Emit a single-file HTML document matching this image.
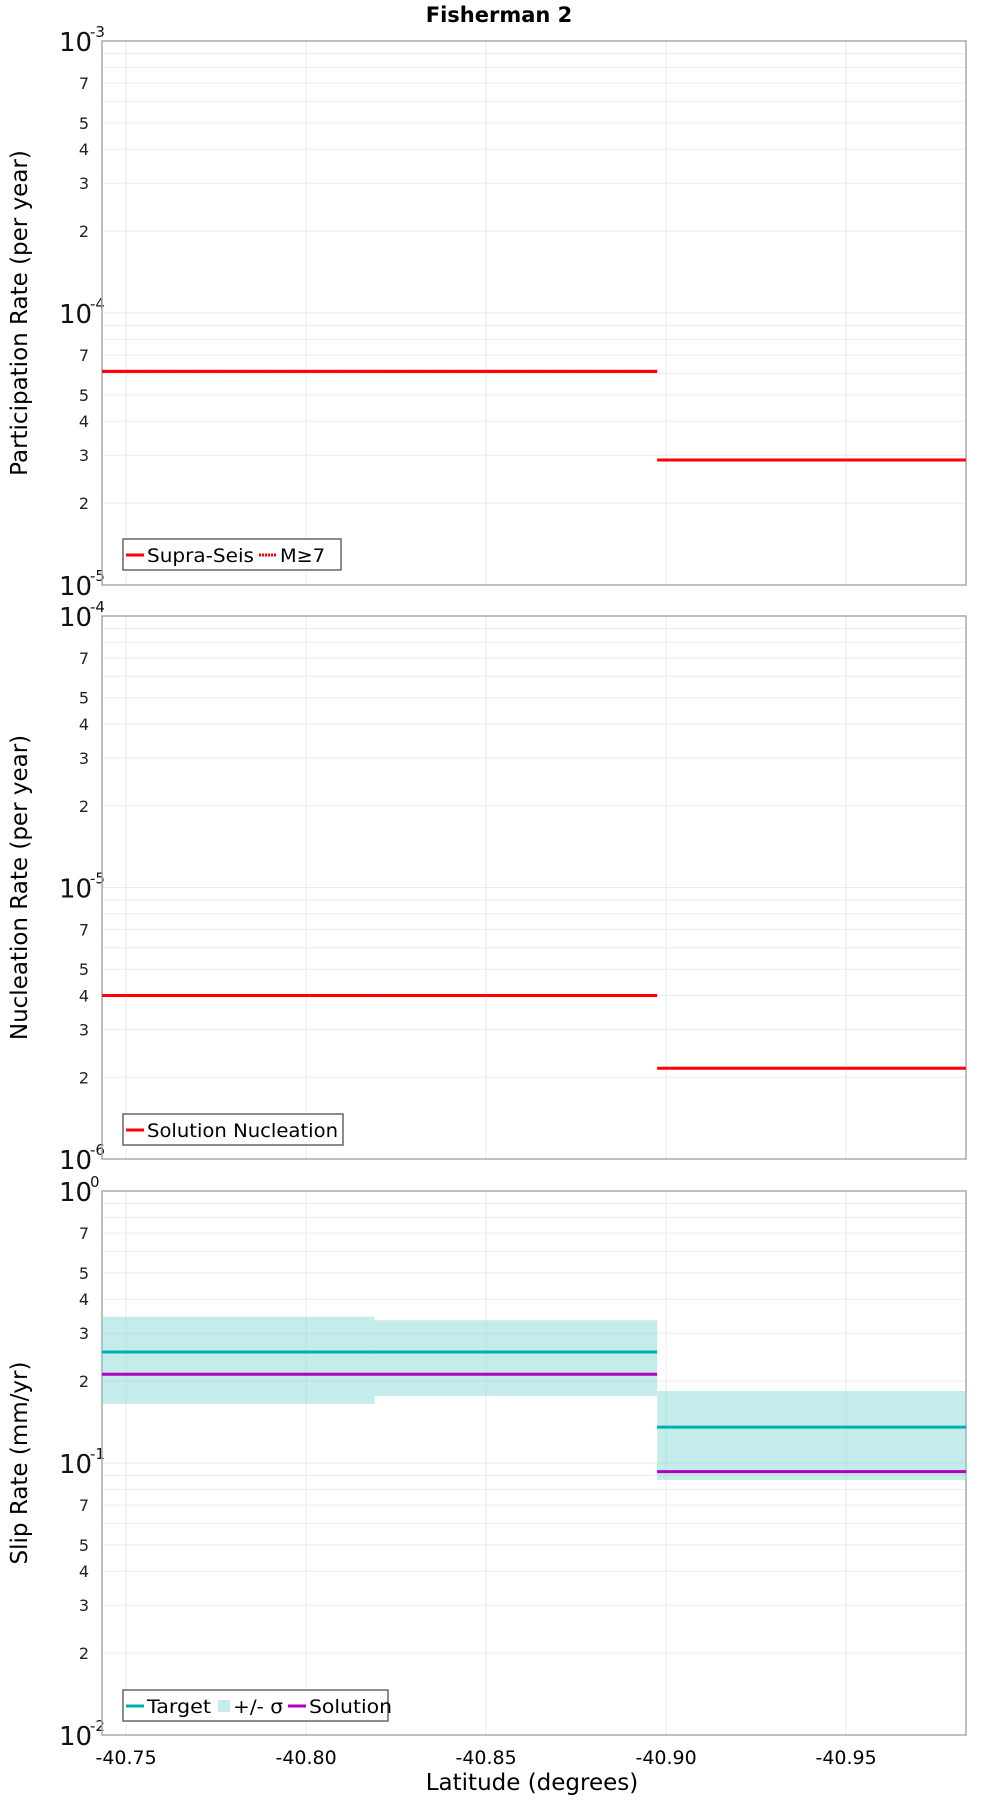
<!DOCTYPE html>
<html><head><meta charset="utf-8"><style>
body{margin:0;background:#fff;}
svg{display:block;font-family:"DejaVu Sans","Liberation Sans",sans-serif;}
</style></head><body>
<svg id="chart" width="1000" height="1800" viewBox="0 0 1000 1800">
<text x="499" y="22" text-anchor="middle" font-size="21" font-weight="bold">Fisherman 2</text>
</svg>
<script>
// x axis
const xTicks = [-40.75, -40.80, -40.85, -40.90, -40.95];
const xTickLabels = ["-40.75", "-40.80", "-40.85", "-40.90", "-40.95"];
const segStart = [-40.7433, -40.819, -40.8975];
const segEnd = [-40.819, -40.8975, -40.9833];
// panel 1: participation
const partSupra = [6.1e-5, 6.1e-5, 2.88e-5];
const partM7 = [6.1e-5, 6.1e-5];
// panel 2: nucleation
const nucleation = [4.0e-6, 4.0e-6, 2.16e-6];
// panel 3: slip rate
const slipTarget = [0.256, 0.256, 0.1355];
const slipUpper = [0.345, 0.335, 0.184];
const slipLower = [0.165, 0.1763, 0.0866];
const slipSolution = [0.212, 0.212, 0.093];
// y-axis decade ranges
const p1Range = [-5, -3];
const p2Range = [-6, -4];
const p3Range = [-2, 0];

const NS = "http://www.w3.org/2000/svg";
const svg = document.getElementById('chart');
const L = 102, R = 966;
const xMin = -40.7433, xMax = -40.9833;
function xs(v){ return L + (v - xMin) / (xMax - xMin) * (R - L); }
function mk(tag, attrs, parent){
  const e = document.createElementNS(NS, tag);
  for (const k in attrs) e.setAttribute(k, attrs[k]);
  (parent || svg).appendChild(e);
  return e;
}
function panel(top, bottom, range, title, key){
  const g = mk('g', {});
  
  
  const ys = v => bottom - (Math.log10(v) - range[0]) / (range[1] - range[0]) * (bottom - top);
  for (let d = range[0]; d < range[1]; d++) {
    for (let m = 1; m <= 9; m++) {
      const v = m * Math.pow(10, d);
      const y = ys(v);
      const gl = mk('line', {x1: L, x2: R, y1: y, y2: y, stroke: '#ebebeb', 'stroke-width': 1}, g);
      
      
      if ([2,3,4,5,7].includes(m)) {
        const t = mk('text', {x: 89, y: y + 6, 'text-anchor': 'end', 'font-size': 16, fill: '#222'}, g);
        t.textContent = m;
        
        
      }
    }
  }
  for (let d = range[0]; d <= range[1]; d++) {
    const y = ys(Math.pow(10, d));
    const t = mk('text', {x: 59, y: y + 10, 'font-size': 26, fill: '#111'}, g);
    t.textContent = '10';
    
    
    const s = mk('text', {x: 90, y: y - 4, 'font-size': 15, fill: '#111'}, g);
    s.textContent = String(d);
    
    
  }
  xTicks.forEach(v => {
    const gl = mk('line', {x1: xs(v), x2: xs(v), y1: top, y2: bottom, stroke: '#ebebeb', 'stroke-width': 1}, g);
    
    
  });
  const fr = mk('rect', {x: L, y: top, width: R - L, height: bottom - top, fill: 'none', stroke: '#aaa', 'stroke-width': 1.5}, g);
  
  
  const yt = mk('text', {x: 0, y: 0, 'font-size': 23, 'text-anchor': 'middle', transform: `translate(27,${(top + bottom) / 2}) rotate(-90)`}, g);
  yt.textContent = title;
  
  
  return {g, ys};
}
function seg(p, vals, color, w, dash, name){
  vals.forEach((v, i) => {
    const y = p.ys(v);
    const a = {x1: xs(segStart[i]), x2: xs(segEnd[i]), y1: y, y2: y, stroke: color, 'stroke-width': w};
    if (dash) a['stroke-dasharray'] = dash;
    const l = mk('line', a, p.g);
    
    
  });
}
function legend(g, x, y, w, items, key){
  const lg = mk('g', {}, g);
  
  
  mk('rect', {x: x, y: y, width: w, height: 31, fill: '#fff', stroke: '#666', 'stroke-width': 1.5}, lg);
  let cx = x + 3;
  items.forEach(it => {
    if (it.type === 'box') {
      mk('rect', {x: cx + 2, y: y + 10, width: 12, height: 12, fill: it.color}, lg);
      cx += 17;
    } else {
      const a = {x1: cx, x2: cx + 18, y1: y + 16, y2: y + 16, stroke: it.color, 'stroke-width': 3};
      if (it.dash) a['stroke-dasharray'] = it.dash;
      mk('line', a, lg);
      cx += 21;
    }
    const t = mk('text', {x: cx, y: y + 23, 'font-size': 19, textLength: it.tw, lengthAdjust: 'spacingAndGlyphs'}, lg);
    t.textContent = it.label;
    
    
    cx += it.tw + 5;
  });
}
const p1 = panel(41, 585, p1Range, 'Participation Rate (per year)', 'participation');
seg(p1, partSupra, '#ff0000', 3, null, 'supra-seis');
seg(p1, partM7, '#ff0000', 3, '2,1', 'm7');
legend(p1.g, 123, 539, 218, [{color: '#f00', label: 'Supra-Seis', tw: 107}, {color: '#f00', dash: '2,1', label: 'M≥7', tw: 45}], 'participation');
const p2 = panel(616, 1159, p2Range, 'Nucleation Rate (per year)', 'nucleation');
seg(p2, nucleation, '#ff0000', 3, null, 'solution-nucleation');
legend(p2.g, 123, 1114, 220, [{color: '#f00', label: 'Solution Nucleation', tw: 191}], 'nucleation');
const p3 = panel(1191, 1735, p3Range, 'Slip Rate (mm/yr)', 'slip-rate');
slipUpper.forEach((u, i) => {
  const y1 = p3.ys(u), y2 = p3.ys(slipLower[i]);
  const r = mk('rect', {x: xs(segStart[i]), y: y1, width: xs(segEnd[i]) - xs(segStart[i]), height: y2 - y1, fill: 'rgba(130,215,210,0.47)'}, p3.g);
  
  
});
seg(p3, slipTarget, '#00b0b0', 3, null, 'target');
seg(p3, slipSolution, '#b000c0', 3, null, 'solution');
legend(p3.g, 123, 1690, 265, [{color: '#00b0b0', label: 'Target', tw: 64}, {type: 'box', color: '#c4ecea', label: '+/- σ', tw: 50}, {color: '#b000c0', label: 'Solution', tw: 83}], 'slip-rate');
xTicks.forEach((v, i) => {
  const t = mk('text', {x: xs(v), y: 1764, 'text-anchor': 'middle', 'font-size': 19});
  t.textContent = xTickLabels[i];
  
  
});
const xt = mk('text', {x: 532, y: 1790, 'text-anchor': 'middle', 'font-size': 23});
xt.textContent = 'Latitude (degrees)';


</script>
</body></html>
